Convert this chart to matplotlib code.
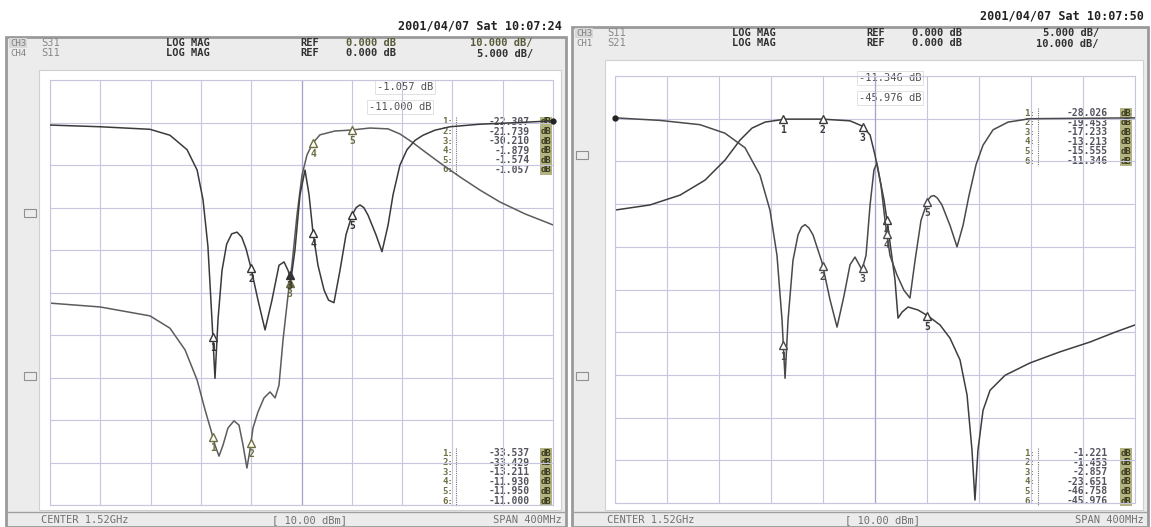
import matplotlib
matplotlib.use("Agg")
import matplotlib.pyplot as plt
from matplotlib.patches import Rectangle
import numpy as np

W, H = 1151, 527
MONO = "DejaVu Sans Mono"

# left screen: S31 (10 dB/div) and S11 (5 dB/div), frequency in MHz
left_s11_f = [1320, 1359.8, 1399.5, 1415.4, 1429, 1437, 1441.7, 1445.6, 1448.8, 1451.2,
              1453.6, 1456.8, 1460.5, 1464.5, 1468.7, 1472.5, 1476, 1479.8, 1485.4, 1491,
              1496.5, 1502.1, 1506.1, 1509.3, 1511.6, 1514.8, 1518.8, 1522.8, 1526, 1529.1,
              1533.1, 1537.9, 1541.5, 1545.8, 1550.6, 1555.4, 1560.2, 1563.5, 1566.5, 1569.5,
              1572.9, 1579.2, 1584, 1588.8, 1592.8, 1598.3, 1603.9, 1610.3, 1616.6, 1626.2,
              1638.1, 1662, 1693.7, 1720]
left_s11_db = [-0.3, -0.5, -0.8, -1.5, -3.2, -5.6, -9.1, -14.6, -23.2, -30.1,
               -23.2, -17.4, -14.3, -13.1, -12.9, -13.5, -14.9, -17.1, -20.9, -24.4,
               -20.9, -16.8, -16.4, -17.4, -18.5, -15.0, -8.5, -5.6, -8.5, -12.9,
               -16.8, -19.7, -20.9, -21.2, -17.4, -13.2, -10.9, -10.0, -9.7, -10.0,
               -10.9, -13.2, -15.2, -12.1, -8.5, -5.0, -3.2, -2.1, -1.5, -0.9,
               -0.5, -0.2, 0.0, 0.2]
left_s31_f = [1320, 1359.8, 1399.5, 1415.4, 1427.4, 1437, 1443.3, 1448, 1451.2, 1454.4,
              1457.6, 1461.5, 1466.3, 1470.3, 1473.5, 1476.6, 1479, 1481.4, 1485.4, 1490.2,
              1495, 1499, 1502.1, 1505.3, 1509.3, 1512.4, 1516.4, 1520.4, 1524.4, 1529.1,
              1534.7, 1546.6, 1558.6, 1574.5, 1588.8, 1598.3, 1607.9, 1618.2, 1630.1, 1646,
              1661.9, 1677.8, 1697.7, 1720]
left_s31_db = [-42.5, -43.4, -45.5, -48.4, -53.5, -60.6, -67.6, -72.4, -75.9, -78.5,
               -75.9, -71.9, -70.2, -71.2, -75.9, -81.3, -77.1, -71.9, -68.1, -64.8,
               -63.4, -64.8, -61.8, -51.2, -40.6, -33.5, -21.8, -12.4, -7.6, -4.8,
               -2.9, -2.0, -1.8, -1.3, -1.5, -2.7, -4.6, -6.9, -9.5, -12.8,
               -15.9, -18.7, -21.5, -24.1]

# right screen: S11 (5 dB/div) and S21 (10 dB/div)
right_s21_f = [1320, 1346.9, 1370, 1389.2, 1404.6, 1416.2, 1425.4, 1435.4, 1450.8, 1479.2,
               1500.8, 1510, 1516.2, 1520, 1523.1, 1526.9, 1530, 1532.3, 1535.4, 1537.7,
               1540.8, 1545.4, 1553.1, 1560.8, 1570, 1577.7, 1585.4, 1590.8, 1594.6, 1596.9,
               1599.2, 1603.1, 1608.5, 1620, 1639.2, 1662.3, 1685.4, 1704.6, 1720]
right_s21_db = [-21.4, -20.2, -17.9, -14.4, -9.7, -5.0, -2.2, -0.8, -0.1, -0.1,
                -0.5, -1.7, -3.8, -8.5, -13.2, -19.0, -25.4, -30.8, -37.8, -46.7,
                -45.3, -44.1, -44.8, -46.2, -48.3, -51.4, -56.5, -64.7, -77.6, -89.3,
                -77.6, -68.3, -63.6, -60.1, -57.2, -54.6, -52.3, -50.0, -48.3]
right_s11_f = [1320, 1354.6, 1385.4, 1404.6, 1420, 1431.5, 1439.2, 1444.6, 1448.5, 1450.8,
               1453.1, 1456.9, 1460.8, 1463.5, 1466.2, 1469.2, 1472.3, 1479.2, 1485.4, 1490.8,
               1496.2, 1500.8, 1504.6, 1510, 1513.1, 1516.2, 1519.2, 1521.5, 1524.6, 1527.7,
               1531.5, 1536.9, 1542.3, 1546.9, 1550.8, 1555.4, 1560.8, 1563, 1565.4, 1568,
               1571.5, 1577.7, 1583.1, 1587.7, 1592.3, 1597.7, 1603.1, 1610.8, 1622.3, 1639.2,
               1720]
right_s11_db = [0.1, -0.2, -0.7, -1.7, -3.4, -6.6, -10.7, -16.0, -23.6, -30.4,
                -23.6, -16.6, -13.6, -12.7, -12.4, -12.8, -13.6, -16.8, -21.2, -24.4,
                -20.7, -17.1, -16.2, -17.7, -16.0, -10.1, -6.0, -5.2, -7.8, -11.9,
                -16.0, -18.3, -20.1, -21.0, -16.6, -11.9, -9.5, -9.1, -9.0, -9.3,
                -10.1, -12.5, -15.0, -12.5, -9.0, -5.4, -3.1, -1.3, -0.4, 0.0,
                0.1]

marker_f = [1449.5, 1479.8, 1510.5, 1529.2, 1560.2]
marker_no = ["1", "2", "3", "4", "5"]

tab_rows = ["1:", "2:", "3:", "4:", "5:", "6:"]
left_top_vals = ["-22.307", "-21.739", "-30.210", "-1.879", "-1.574", "-1.057"]
left_bot_vals = ["-33.537", "-33.429", "-13.211", "-11.930", "-11.950", "-11.000"]
right_top_vals = ["-28.026", "-19.453", "-17.233", "-13.213", "-15.555", "-11.346"]
right_bot_vals = ["-1.221", "-1.453", "-2.857", "-23.651", "-46.758", "-45.976"]

fig = plt.figure(figsize=(W / 100, H / 100), dpi=100)
fig.patch.set_facecolor("white")
bg = fig.add_axes([0, 0, 1, 1])
bg.set_xlim(0, W)
bg.set_ylim(H, 0)
bg.axis("off")


def px_axes(x0, y0, x1, y1):
    return fig.add_axes([x0 / W, 1 - y1 / H, (x1 - x0) / W, (y1 - y0) / H])


def screen(x0, x1, top, stamp, rows, center_x):
    # outer frame, header and footer of one analyzer screen
    bg.add_patch(Rectangle((x0, top), x1 - x0, H - top, fc="#ececec", ec="#9a9a9a", lw=2))
    bg.add_patch(Rectangle((x0 + 33, top + 33), x1 - x0 - 38, H - top - 50, fc="white",
                           ec="#d0d0d0", lw=0.8))
    bg.text(x1 - 4, top - 11, stamp, ha="right", va="center", family=MONO,
            fontsize=8.5, fontweight="bold", color="#222222")
    for i, (ch, par, fmt, scale, col) in enumerate(rows):
        y = top + 6 + i * 10.5
        bg.text(x0 + 4, y, ch, ha="left", va="center", family=MONO, fontsize=6.5,
                color="#808080", bbox=dict(fc="#d8d8d8" if i == 0 else "#ececec", ec="none", pad=0.5))
        bg.text(x0 + 35, y, par, ha="left", va="center", family=MONO, fontsize=7.5, color="#888888")
        bg.text(x0 + 160, y, fmt, ha="left", va="center", family=MONO, fontsize=7.5,
                fontweight="bold", color="#303030")
        bg.text(x0 + 294, y, "REF", ha="left", va="center", family=MONO, fontsize=7.5,
                fontweight="bold", color="#303030")
        bg.text(x0 + 340, y, "0.000 dB", ha="left", va="center", family=MONO, fontsize=7.5,
                fontweight="bold", color=col)
        bg.text(x0 + 527, y, scale, ha="right", va="center", family=MONO, fontsize=7.5,
                fontweight="bold", color=col)
    bg.plot([x0, x1], [H - 15, H - 15], color="#a0a0a0", lw=1)
    bg.text(x0 + 35, H - 7, "CENTER 1.52GHz", ha="left", va="center", family=MONO,
            fontsize=7.5, color="#707070")
    bg.text(center_x, H - 7, "[ 10.00 dBm]", ha="center", va="center", family=MONO,
            fontsize=7.5, color="#707070")
    bg.text(x1 - 4, H - 7, "SPAN 400MHz", ha="right", va="center", family=MONO,
            fontsize=7.5, color="#707070")


def marker_table(xlab, xval, xdb, ytop, vals):
    for i, (lab, v) in enumerate(zip(tab_rows, vals)):
        y = ytop + i * 9.6
        bg.text(xlab, y, lab, ha="right", va="center", family=MONO, fontsize=6.5,
                fontweight="bold", color="#6f6f45")
        bg.text(xval, y, v, ha="right", va="center", family=MONO, fontsize=7,
                fontweight="bold", color="#55555f")
        bg.text(xdb, y, "dB", ha="center", va="center", family=MONO, fontsize=6.5,
                fontweight="bold", color="#3c3c20", bbox=dict(fc="#b3b382", ec="none", pad=0.6))
    bg.plot([xlab + 3, xlab + 3], [ytop - 5, ytop + 5 * 9.6 + 5], color="#777777", lw=0.8, ls=(0, (1, 1)))


def grid_axes(box):
    ax = px_axes(*box)
    ax.set_xlim(1320, 1720)
    ax.set_ylim(-90, 10)
    ax.set_xticks(np.linspace(1320, 1720, 11))
    ax.set_yticks(np.arange(-90, 11, 10))
    ax.grid(True, color="#c6c6de", lw=0.8)
    ax.axvline(1520, color="#a4a4cc", lw=0.9)
    ax.tick_params(length=0, labelbottom=False, labelleft=False)
    for s in ax.spines.values():
        s.set_color("#c6c6de")
    ax.patch.set_alpha(0)
    ax2 = ax.twinx()
    ax2.set_ylim(-45, 5)
    ax2.set_yticks([])
    for s in ax2.spines.values():
        s.set_visible(False)
    return ax, ax2


def draw_markers(ax, f, db, color, active=None):
    for fm, n in zip(marker_f, marker_no):
        y = np.interp(fm, f, db)
        ax.plot(fm, y, marker="^", ms=6, mfc=color if n == active else "white",
                mec=color, mew=1.0, zorder=5)
        ax.annotate(n, (fm, y), xytext=(0, -8), textcoords="offset points", ha="center",
                    va="center", family=MONO, fontsize=7, fontweight="bold", color=color, zorder=5)


# left screen
screen(6, 566, 37, "2001/04/07 Sat 10:07:24",
       [("CH3", "S31", "LOG MAG", "10.000 dB/", "#5a5a3a"),
        ("CH4", "S11", "LOG MAG", "5.000 dB/", "#303030")], 310)
axL, axL2 = grid_axes((50, 80, 553, 505))
axL.plot(left_s31_f, left_s31_db, color="#5c5c5c", lw=1.1, solid_joinstyle="round")
axL2.plot(left_s11_f, left_s11_db, color="#3a3a3a", lw=1.1, solid_joinstyle="round")
axL2.plot(left_s11_f[-1], left_s11_db[-1], "o", ms=3.5, color="#222222", clip_on=False)
draw_markers(axL, left_s31_f, left_s31_db, "#6d6d40", active="3")
draw_markers(axL2, left_s11_f, left_s11_db, "#333333", active="3")

# right screen
screen(572, 1148, 27, "2001/04/07 Sat 10:07:50",
       [("CH3", "S11", "LOG MAG", "5.000 dB/", "#303030"),
        ("CH1", "S21", "LOG MAG", "10.000 dB/", "#303030")], 883)
axR, axR2 = grid_axes((615, 76, 1135, 503))
axR.plot(right_s21_f, right_s21_db, color="#3e3e3e", lw=1.1, solid_joinstyle="round")
axR2.plot(right_s11_f, right_s11_db, color="#4a4a4a", lw=1.1, solid_joinstyle="round")
axR2.plot(right_s11_f[0], right_s11_db[0], "o", ms=3.5, color="#222222", clip_on=False)
draw_markers(axR, right_s21_f, right_s21_db, "#3a3a3a")
draw_markers(axR2, right_s11_f, right_s11_db, "#4a4a4a")

# reference position indicators
for x, y in [(30, 213), (30, 376), (582, 155), (582, 376)]:
    bg.add_patch(Rectangle((x - 6, y - 4), 12, 8, fc="none", ec="#909090", lw=0.8))

# active marker readouts
for x, y, t in [(405, 87, "-1.057 dB"), (400, 107, "-11.000 dB"),
                (890, 78, "-11.346 dB"), (890, 98, "-45.976 dB")]:
    bg.text(x, y, t, ha="center", va="center", family=MONO, fontsize=7.5, color="#505050",
            bbox=dict(fc="white", ec="#dddddd", lw=0.6, pad=1.5))

marker_table(453, 530, 546, 122, left_top_vals)
marker_table(453, 530, 546, 453, left_bot_vals)
marker_table(1035, 1108, 1126, 113, right_top_vals)
marker_table(1035, 1108, 1126, 453, right_bot_vals)

fig.savefig("out.png", dpi=100)
